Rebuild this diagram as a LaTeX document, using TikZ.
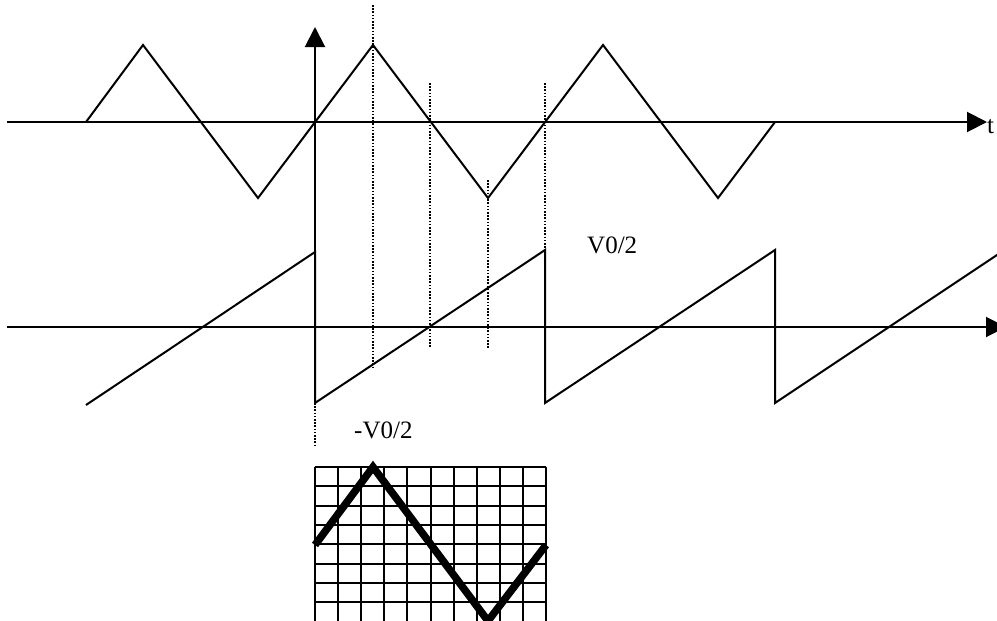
\documentclass[tikz,border=0pt]{standalone}
\usepackage{fontspec}
\setmainfont{Liberation Serif}
\usetikzlibrary{arrows.meta}
\begin{document}
\begin{tikzpicture}[x=1pt,y=-1pt,
  axis/.style={line width=2pt,-{Triangle[length=20pt,width=20pt]}},
  wave/.style={line width=2pt,line join=miter},
  guide/.style={line width=1.6pt,dash pattern=on 1.6pt off 1.6pt},
  gridline/.style={line width=2pt},
  thickwave/.style={line width=7.5pt,line join=miter,miter limit=4},
  lbl/.style={font=\fontsize{25}{29}\selectfont,inner sep=0pt,anchor=base west}]
\useasboundingbox (0,0) rectangle (997,621);
\clip (0,0) rectangle (997,621);
% coordinates
\coordinate (tL) at (7,122);
\coordinate (tR) at (987,122);
\coordinate (sL) at (7,327);
\coordinate (sR) at (1006,327);
\coordinate (vB) at (315,403);
\coordinate (vT) at (315,27);
\coordinate (vD) at (315,445);
% axes
\draw[axis] (tL) -- (tR);
\draw[axis] (sL) -- (sR);
\draw[axis] (vB) -- (vT);
\draw[guide] (vB) -- (vD);
% triangle wave
\draw[wave] (86,122) -- (143,45) -- (258,198) -- (373,45) -- (488,198) -- (603,45) -- (718,198) -- (775,122);
% sawtooth
\draw[wave] (86,405) -- (315,252) -- (315,403) -- (545,250) -- (545,403) -- (775,250) -- (775,403) -- (1000,253);
% dotted guides
\draw[guide] (373,5) -- (373,368);
\draw[guide] (430,83) -- (430,348);
\draw[guide] (488,180) -- (488,348);
\draw[guide] (545,83) -- (545,250);
% labels
\node[lbl] (t) at (987,133) {t};
\node[lbl] (vp) at (587,253) {V0/2};
\node[lbl] (vm) at (354,438) {-V0/2};
% grid
\foreach \i in {0,...,10} {
  \draw[gridline] ({315+23.1*\i},467) -- ({315+23.1*\i},621);
}
\foreach \j in {0,...,7} {
  \draw[gridline] (315,{467+19.3*\j}) -- (546,{467+19.3*\j});
}
\draw[thickwave] (315,545) -- (373,467) -- (488,621) -- (546,545);
\end{tikzpicture}
\end{document}
